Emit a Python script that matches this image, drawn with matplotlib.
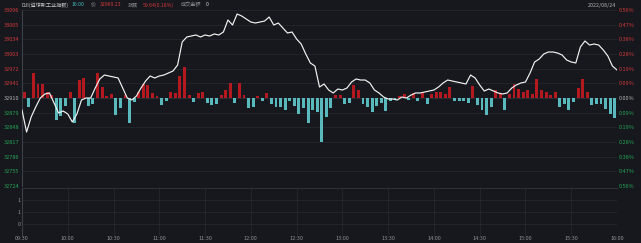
import matplotlib
matplotlib.use("Agg")
import matplotlib.pyplot as plt
import numpy as np

plt.rcParams['font.family'] = ['Noto Sans CJK SC', 'DejaVu Sans']

# ---- data ----
prev_close = 32910
# minutes after 09:30, one reading every 3 minutes
minutes = list(range(0, 391, 3))
price = [32884.6, 32838.1, 32869.8, 32891.0, 32910.0, 32918.5, 32920.6, 32899.4, 32878.3, 32882.5,
         32876.2, 32859.3, 32876.2, 32905.8, 32910.0, 32910.0, 32931.1, 32950.2, 32958.6, 32956.5,
         32954.4, 32952.3, 32931.1, 32910.0, 32905.8, 32914.2, 32931.1, 32945.9, 32956.5, 32952.3,
         32956.5, 32958.6, 32962.8, 32967.1, 32979.7, 33028.4, 33038.9, 33041.0, 33043.2, 33038.9,
         33043.2, 33041.0, 33045.3, 33043.2, 33049.5, 33074.9, 33064.3, 33087.5, 33083.3, 33077.0,
         33070.6, 33068.5, 33070.6, 33072.7, 33081.2, 33064.3, 33068.5, 33058.0, 33047.4, 33049.5,
         33034.7, 33024.1, 33003.0, 32984.0, 32977.6, 32933.2, 32939.6, 32926.9, 32920.6, 32929.0,
         32926.9, 32931.1, 32943.8, 32950.2, 32948.0, 32948.0, 32941.7, 32926.9, 32920.6, 32912.1,
         32907.9, 32907.9, 32905.8, 32912.1, 32910.0, 32916.3, 32920.6, 32920.6, 32922.7, 32924.8,
         32926.9, 32933.2, 32941.7, 32948.0, 32945.9, 32943.8, 32941.7, 32939.6, 32958.6, 32952.3,
         32937.5, 32924.8, 32929.0, 32924.8, 32920.6, 32918.5, 32920.6, 32931.1, 32937.5, 32941.7,
         32943.8, 32962.8, 32986.1, 32992.4, 33003.0, 33007.2, 33007.2, 33005.1, 33000.9, 32990.3,
         32986.1, 32984.0, 33017.8, 33030.5, 33022.0, 33024.1, 33022.0, 33011.5, 32998.8, 32977.6,
         32969.23]

bar_minutes = list(range(0, 390, 3))
flow = [6, -9, 25, 14, 14, 6, 3, -22, -18, -8,
        6, -25, 18, 20, -8, -6, 25, 11, 2, 4,
        -17, -10, 3, -25, -4, 6, 14, 13, 5, 2,
        -7, -3, 6, 5, 22, 31, 3, -4, 5, 6,
        -5, -7, -6, 3, 8, 15, -5, 15, 3, -10,
        -9, 2, -3, 5, -6, -9, -9, -12, -3, -8,
        -16, -10, -25, -12, -14, -44, -19, -10, 3, 3,
        -6, -5, 13, 8, -6, -9, -14, -8, -5, -13,
        -3, -2, 2, 4, -2, 5, -3, 6, -6, 4,
        6, 6, 4, 11, -3, -3, -3, -5, 12, -7,
        -12, -17, -9, 8, 5, -12, 4, 14, 9, 6,
        8, 4, 19, 8, 6, 3, 6, -9, -6, -12,
        -4, 10, 19, 6, -7, -6, -6, -11, -16, -20]

left_labels = ['32724', '32755', '32786', '32817', '32848', '32879', '32910',
               '32941', '32972', '33003', '33034', '33065', '33096']
right_labels = ['0.56%', '0.47%', '0.38%', '0.28%', '0.19%', '0.09%', '0.00%',
                '0.09%', '0.19%', '0.28%', '0.38%', '0.47%', '0.56%']
time_labels = ['09:30', '10:00', '10:30', '11:00', '11:30', '12:00', '12:30',
               '13:00', '13:30', '14:00', '14:30', '15:00', '15:30', '16:00']
vol_labels = ['0', '1', '1']

bg = '#16181d'
grid_c = '#272a31'
red = '#d2393b'
green = '#27a555'
grey = '#8c8f96'

fig = plt.figure(figsize=(6.41, 2.43), dpi=100, facecolor=bg)

# main price panel
ax = fig.add_axes([22/641, 1-186/243, 595/641, 176/243])
ax2 = ax.twinx()
ax2.set_facecolor(bg)
ax.set_zorder(ax2.get_zorder() + 1)
ax.patch.set_visible(False)

ax.set_xlim(0, 390)
ax.set_ylim(32724, 33096)
ax2.set_ylim(-88, 88)

# red / cyan flow bars
bar_x = np.array(bar_minutes) + 1.5
fv = np.array(flow)
ax2.bar(bar_x, fv, width=1.9, color=np.where(fv >= 0, '#b3191e', '#5ab9bd'), linewidth=0)
ax2.axhline(0, color='#3a3d44', lw=0.6, zorder=0)

ax.plot(minutes, price, color='#f2f2f2', lw=0.85)

ticks = [int(t) for t in left_labels]
ax.set_yticks(ticks)
ax.set_yticklabels(left_labels)
for lab, t in zip(ax.get_yticklabels(), ticks):
    lab.set_color(red if t > prev_close else (green if t < prev_close else '#b5b5b5'))
ax.tick_params(axis='y', length=0, labelsize=4, pad=2)
ax.set_xticks(range(0, 391, 30))
ax.tick_params(axis='x', length=0, labelbottom=False)

pct_pos = np.linspace(-88, 88, 13)
ax2.set_yticks(pct_pos)
ax2.set_yticklabels(right_labels)
for lab, t in zip(ax2.get_yticklabels(), pct_pos):
    lab.set_color(red if t > 0.1 else (green if t < -0.1 else '#b5b5b5'))
ax2.tick_params(axis='y', length=0, labelsize=4, pad=1.6)
ax2.grid(True, color=grid_c, lw=0.5)
ax2.set_axisbelow(True)
ax2.set_xticks(range(0, 391, 30))
ax2.xaxis.grid(True, color=grid_c, lw=0.5)

for a in (ax, ax2):
    for s in a.spines.values():
        s.set_visible(False)
ax2.spines['left'].set_visible(True)
ax2.spines['left'].set_color('#3c4048')
ax2.spines['left'].set_linewidth(0.8)

# volume sub panel
axv = fig.add_axes([22/641, 1-236/243, 595/641, 48/243], facecolor=bg)
axv.set_xlim(0, 390)
axv.set_ylim(-1, 3)
axv.set_yticks([0, 1, 2])
axv.set_yticklabels(vol_labels, color=grey)
axv.set_xticks(range(0, 391, 30))
axv.set_xticklabels(time_labels, color=grey)
axv.tick_params(length=0, labelsize=4, pad=1)
axv.tick_params(axis='x', pad=0.3)
axv.grid(True, color=grid_c, lw=0.5)
for s in axv.spines.values():
    s.set_visible(False)
axv.spines['left'].set_visible(True)
axv.spines['left'].set_color('#3c4048')
axv.spines['left'].set_linewidth(0.8)
axv.spines['top'].set_visible(True)
axv.spines['top'].set_color('#33363d')
axv.spines['top'].set_linewidth(0.6)

# header line
y_head = 1 - 5/243
parts = [(22, 'DJI(道琼斯工业指数)', '#c8c8c8'),
         (72, '16:00', '#3fb8b8'),
         (91, '价', grey),
         (100, '32969.23', red),
         (128, '涨跌', grey),
         (143, '59.64(0.18%)', red),
         (181, '成交金额', grey),
         (206, '0', '#d8d8d8')]
for x, s, c in parts:
    fig.text(x/641, y_head, s, color=c, fontsize=3.7, va='center', ha='left')
fig.text(616/641, y_head, '2022/08/24', color='#b0b0b0', fontsize=3.9, va='center', ha='right')

fig.savefig('out.png', dpi=100, facecolor=bg)
